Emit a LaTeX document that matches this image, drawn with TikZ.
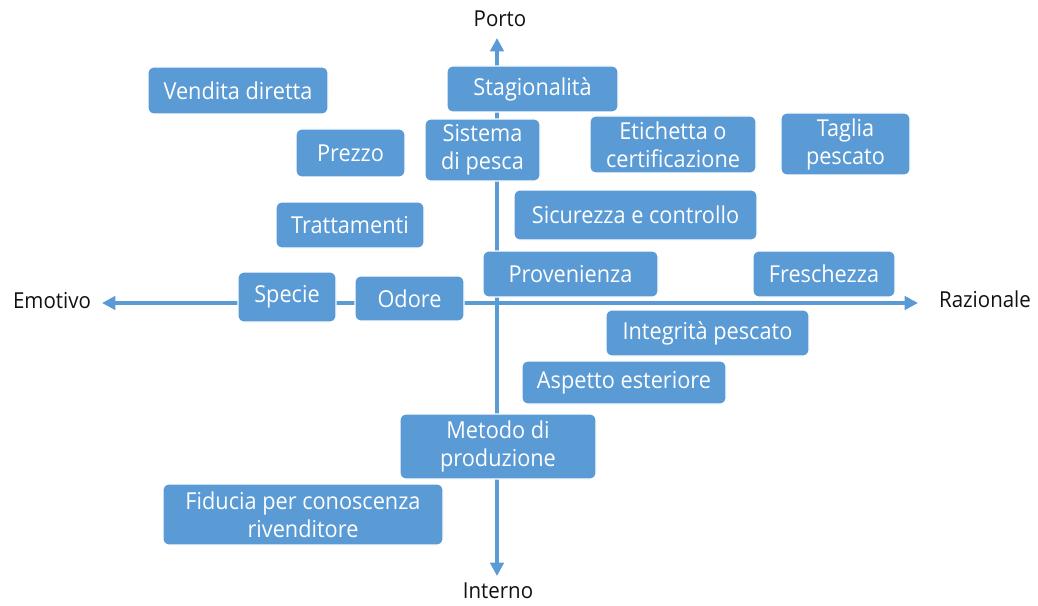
\documentclass[tikz,border=0pt]{standalone}
\usepackage{fontspec}
\setmainfont{Open Sans}[FakeStretch=0.93]
\usepackage{xcolor}
\usepackage{tikz}
\usetikzlibrary{arrows.meta}
\definecolor{cblue}{HTML}{5B9BD5}
\definecolor{cink}{HTML}{111111}
\tikzset{
  >={Triangle[length=10pt,width=10pt]},
  tag/.style={rounded corners=4.5pt,draw=white,fill=cblue,line width=0.8pt,
              text=white,align=center,inner sep=2pt,
              font=\fontsize{17.5}{21}\selectfont},
  pole/.style={font=\fontsize{16.5}{19}\selectfont,text=cink},
  axis/.style={<->,draw=cblue,line width=3pt},
}

\begin{document}
\begin{tikzpicture}[x=0.75pt,y=-0.75pt]
\useasboundingbox (0,0) rectangle (1038,606);

% ================= AXES =================
\coordinate (west) at (102,303);
\coordinate (east) at (918,303);
\coordinate (north) at (497,38);
\coordinate (south) at (497,576);
\draw[axis] (west) -- (east);
\draw[axis] (north) -- (south);
\node[pole] (porto) at (500,19) {Porto};
\node[pole] (interno) at (498,591) {Interno};
\node[pole] (emotivo) at (52,301) {Emotivo};
\node[pole] (razionale) at (985,299) {Razionale};

% ================= UPPER HALF =================
\node[tag,minimum width=135pt,minimum height=35.25pt] (vendita) at (238,90.5) {Vendita diretta};
\node[tag,minimum width=128.25pt,minimum height=34.5pt] (stag) at (532.5,89) {Stagionalità};
\node[tag,minimum width=86.25pt,minimum height=46.5pt] (sistema) at (482.5,150) {Sistema\\di pesca};
\node[tag,minimum width=124.5pt,minimum height=42.75pt] (etichetta) at (673,144.5) {Etichetta o\\certificazione};
\node[tag,minimum width=96.75pt,minimum height=46.5pt] (taglia) at (845.5,144) {Taglia\\pescato};
\node[tag,minimum width=81.75pt,minimum height=36pt] (prezzo) at (350.5,153) {Prezzo};
\node[tag,minimum width=111pt,minimum height=34.5pt] (tratt) at (350,225) {Trattamenti};
\node[tag,minimum width=182.25pt,minimum height=37.5pt] (sicurezza) at (635.5,215) {Sicurezza e controllo};
\node[tag,minimum width=131.25pt,minimum height=34.5pt] (prov) at (570.5,274) {Provenienza};
\node[tag,minimum width=106.5pt,minimum height=34.5pt] (fresch) at (824,274) {Freschezza};

% ================= ON THE AXIS =================
\node[tag,minimum width=73.5pt,minimum height=37.5pt] (specie) at (287,297) {Specie};
\node[tag,minimum width=81.75pt,minimum height=33.75pt] (odore) at (409.5,298.5) {Odore};

% ================= LOWER HALF =================
\node[tag,minimum width=152.25pt,minimum height=34.5pt] (integrita) at (707.5,333) {Integrità pescato};
\node[tag,minimum width=153pt,minimum height=32.25pt] (aspetto) at (624,382.5) {Aspetto esteriore};
\node[tag,minimum width=147pt,minimum height=48.75pt] (metodo) at (498,446.5) {Metodo di\\produzione};
\node[tag,minimum width=210pt,minimum height=45.75pt] (fiducia) at (303,514.5) {Fiducia per conoscenza\\rivenditore};

\end{tikzpicture}
\end{document}
